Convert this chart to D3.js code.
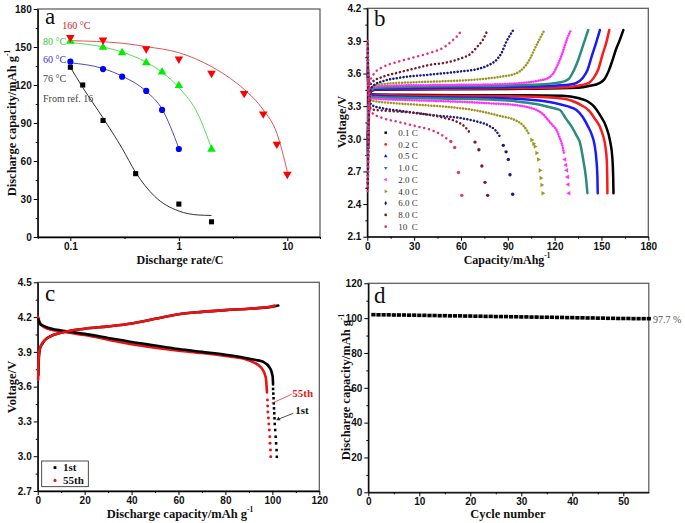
<!DOCTYPE html>
<html><head><meta charset="utf-8">
<script src="https://cdn.jsdelivr.net/npm/d3@7"></script>
<style>body{margin:0;background:#fff}</style>
</head><body>
<svg id="c" width="685" height="523"></svg>
<script>
// ---------------- DATA ----------------
// Panel a: rate capability
const aRate160 = [0.1,0.2,0.5,1,2,4,6,8,10];
const aCap160  = [157.5,155.5,148.6,140.5,129.3,113.4,97.2,73.3,49.6];
const aRate80  = [0.1,0.2,0.3,0.5,0.7,1,2];
const aCap80   = [154.5,149.7,145.5,137.6,130.3,119.5,69.2];
const aRate60  = [0.1,0.2,0.3,0.5,0.7,1];
const aCap60   = [138.4,132.6,126.6,115.3,100.3,69.5];
const aRate76  = [0.1,0.13,0.2,0.4,1,2];
const aCap76   = [134,120,92,50,26,12];
const aFit160X = [0.1,0.3,0.5,1,2,3,4,6,8,10];
const aFit160Y = [155,153,150.3,145.5,134.5,125,116.6,100.3,82,51.6];
const aFit80X  = [0.1,0.2,0.3,0.5,0.7,1,1.5,2];
const aFit80Y  = [153.5,150,146,138,130,118,97,70];
const aFit60X  = [0.1,0.2,0.3,0.5,0.7,1];
const aFit60Y  = [137.5,133,127,115,101,70];
const aFit76X  = [0.1,0.13,0.2,0.3,0.4,0.6,1,1.5,2];
const aFit76Y  = [134,118,94,70,51,32,20.5,17.4,17];
const aTempLabels = ["160 \u00B0C","80 \u00B0C","60 \u00B0C","76 \u00B0C","From ref. 16"];

// Panel b: charge/discharge curves at different rates [capacity, voltage]
const bRates = ["0.1 C","0.2 C","0.5 C","1.0 C","2.0 C","4.0 C","6.0 C","8.0 C","10  C"];
const bColors = ["#000000","#ff1a1a","#1a1aff","#2a8c7e","#ff33ff","#9a9a22","#1a1a80","#761a2c","#e8307e"];
const b01Charge = [[0.3,3.0],[1,3.3],[2,3.43],[5,3.45],[50,3.455],[100,3.46],[135,3.47],[142,3.485],[149,3.515],[152,3.55],[154.5,3.62],[157,3.72],[159,3.81],[161.5,3.90],[164,4.0]];
const b01Dis    = [[0.3,3.6],[1,3.45],[3,3.41],[20,3.405],[60,3.40],[100,3.40],[125,3.395],[135,3.375],[141,3.345],[145,3.30],[149,3.22],[153,3.11],[155.5,2.98],[157,2.82],[157.5,2.65],[157.7,2.50]];
const b02Charge = [[0.3,2.95],[1,3.3],[2,3.43],[5,3.455],[50,3.46],[100,3.465],[128,3.475],[136,3.49],[142,3.515],[145,3.56],[148,3.64],[151,3.79],[153,3.88],[155,4.0]];
const b02Dis    = [[0.3,3.62],[1,3.45],[3,3.405],[50,3.395],[100,3.39],[122,3.375],[131,3.35],[137,3.31],[142,3.26],[146,3.18],[149,3.11],[151,3.03],[152.5,2.93],[153.4,2.80],[153.7,2.65],[153.8,2.50]];
const b05Charge = [[0.3,2.9],[1,3.3],[2,3.43],[5,3.46],[50,3.47],[100,3.48],[122,3.49],[130,3.50],[134,3.515],[138,3.56],[141,3.63],[144,3.77],[146.5,3.88],[149,4.0]];
const b05Dis    = [[0.3,3.65],[1,3.44],[3,3.395],[30,3.385],[80,3.375],[108,3.355],[120,3.33],[128,3.30],[134,3.265],[138,3.20],[141.5,3.11],[144,3.03],[145.5,2.95],[146.8,2.80],[147.4,2.65],[147.6,2.50]];
const b1Charge  = [[0.3,2.85],[1,3.3],[2,3.44],[5,3.47],[30,3.48],[70,3.485],[100,3.495],[115,3.505],[124,3.52],[129,3.55],[132,3.62],[135,3.72],[138,3.85],[141.5,4.0]];
const b1Dis     = [[0.3,3.68],[1,3.44],[3,3.385],[30,3.375],[70,3.365],[95,3.345],[108,3.32],[117,3.29],[123.4,3.265],[127,3.19],[131,3.11],[134,3.03],[136.3,2.96],[138.4,2.80],[140,2.65],[141,2.50]];
const b2Charge  = [[0.3,2.8],[1,3.3],[2,3.45],[5,3.48],[20,3.49],[50,3.495],[80,3.50],[100,3.515],[110,3.535],[116,3.56],[119,3.60],[122,3.68],[125,3.79],[128,3.92],[130.5,4.0]];
const b2Dis     = [[0.3,3.72],[1,3.42],[3,3.37],[30,3.355],[60,3.34],[80,3.325],[95,3.31],[103,3.29],[108.5,3.265],[113,3.22],[116,3.17],[119,3.12],[121.3,3.08],[123,3.02],[124.5,2.96],[126,2.87]];
const b2Tail    = [[126.6,2.81],[127.2,2.76],[127.8,2.71],[128.3,2.65],[128.7,2.58],[129.2,2.50]];
const b4Charge  = [[0.3,2.75],[1,3.3],[2,3.46],[5,3.49],[15,3.51],[30,3.52],[50,3.53],[70,3.545],[85,3.57],[95,3.60],[100,3.65],[104,3.73],[107,3.82],[110.5,3.92],[113.5,4.0]];
const b4Dis     = [[0.3,3.78],[1,3.40],[3,3.35],[15,3.33],[30,3.315],[50,3.295],[70,3.26],[85,3.21],[95,3.17],[100,3.12],[102.1,3.08],[104,3.03]];
const b4Tail    = [[105.3,2.99],[106.5,2.955],[107.4,2.93],[108.5,2.87],[109.6,2.81],[110.6,2.71],[111.2,2.64],[111.7,2.575],[112.4,2.50]];
const b6Charge  = [[0.3,2.6],[1,3.2],[2,3.44],[4,3.49],[10,3.53],[20,3.56],[40,3.59],[60,3.62],[70,3.64],[78,3.68],[83,3.73],[86,3.79],[89,3.89],[93.5,4.0]];
const b6Dis     = [[0.3,3.82],[1,3.36],[3,3.31],[10,3.28],[20,3.26],[40,3.22],[60,3.19],[70,3.16],[78,3.12],[82,3.08],[85,3.02]];
const b6Tail    = [[87.1,2.94],[88.9,2.88],[90.3,2.81],[91.4,2.67],[93.1,2.49]];
const b8Charge  = [[0.3,2.55],[1,3.15],[1.5,3.47],[3,3.52],[10,3.57],[20,3.61],[30,3.645],[40,3.68],[50,3.70],[60,3.74],[66,3.78],[70,3.84],[74,3.91],[77,4.0]];
const b8Dis     = [[0.3,3.87],[1,3.32],[3,3.27],[10,3.26],[20,3.25],[30,3.24],[40,3.22],[50,3.19],[57,3.16],[62.6,3.11],[66,3.05]];
const b8Tail    = [[69,2.97],[71.5,2.90],[73.4,2.75],[75.4,2.60],[77.1,2.48]];
const b10Charge = [[0.3,2.52],[1,3.1],[1.5,3.52],[5,3.61],[10,3.66],[20,3.71],[30,3.75],[40,3.79],[50,3.85],[55,3.91],[58,3.95],[60.5,4.0]];
const b10Dis    = [[0.3,3.9],[1,3.30],[3,3.24],[10,3.19],[20,3.155],[30,3.12],[41,3.08],[47.7,3.035],[51,3.0]];
const b10Tail   = [[53.5,2.975],[56,2.92],[58.4,2.69],[60.5,2.48]];

// Panel c: 1st and 55th cycle [capacity, voltage]
const c1stCharge  = [[0.3,3.70],[0.5,3.85],[1,3.93],[2,3.97],[3,4.0],[5,4.03],[10,4.065],[20,4.10],[30,4.12],[40,4.145],[50,4.185],[60,4.225],[70,4.245],[80,4.26],[90,4.272],[100,4.29],[102.5,4.30]];
const c55Charge   = [[0.2,3.66],[0.3,3.78],[0.6,3.90],[1.5,3.96],[3,4.0],[5,4.03],[10,4.065],[20,4.10],[30,4.12],[40,4.145],[50,4.185],[60,4.225],[70,4.245],[80,4.26],[90,4.272],[100,4.292],[101,4.30]];
const c1stDis     = [[0.3,4.18],[1,4.14],[3,4.12],[6,4.10],[10,4.085],[15,4.07],[20,4.055],[30,4.02],[40,3.985],[50,3.955],[60,3.925],[70,3.90],[80,3.875],[88,3.85],[93,3.83],[96,3.815],[99,3.76],[100.1,3.69],[100.3,3.62]];
const c55Dis      = [[0.2,4.2],[1,4.15],[3,4.11],[6,4.09],[10,4.075],[15,4.06],[20,4.045],[30,4.005],[40,3.965],[50,3.935],[60,3.91],[70,3.89],[80,3.865],[88,3.84],[92,3.81],[95.4,3.76],[97.2,3.68],[97.7,3.55]];
const c1stTail    = [[100.3,3.58],[100.4,3.54],[100.5,3.50],[100.6,3.456],[100.7,3.413],[100.8,3.37],[100.9,3.327],[101.0,3.278],[101.2,3.226],[101.4,3.168],[101.6,3.111],[101.8,3.053],[101.9,2.995]];
const c55Tail     = [[97.9,3.484],[98.0,3.433],[98.1,3.381],[98.3,3.329],[98.5,3.278],[98.7,3.226],[98.9,3.168],[99.0,3.111],[99.2,3.053],[99.3,2.995]];

// Panel d: cycling
const dCycles = d3.range(1,56);
const dCap = [102.0,101.9,101.9,101.9,101.8,101.8,101.8,101.7,101.7,101.6,
              101.6,101.5,101.5,101.4,101.4,101.3,101.3,101.3,101.2,101.2,
              101.1,101.1,101.0,101.0,100.9,100.9,100.9,100.8,100.8,100.7,
              100.7,100.6,100.6,100.5,100.5,100.5,100.4,100.4,100.3,100.3,
              100.2,100.2,100.1,100.1,100.0,100.0,99.9,99.9,99.8,99.8,
              99.8,99.7,99.7,99.7,99.7];

// ---------------- DRAWING ----------------
const svg = d3.select("#c");
const SANS = "'Liberation Sans', Arial, sans-serif";
const SERIF = "'Liberation Serif', 'Times New Roman', serif";

function panel(xs, ys, o) {
  const [xl, xr] = xs.range(), [yb, yt] = ys.range();
  const g = svg.append("g");
  g.append("rect").attr("x", xl).attr("y", yt).attr("width", xr - xl).attr("height", yb - yt)
    .attr("fill", "none").attr("stroke", "#555").attr("stroke-width", 1.2);
  g.append("g").attr("transform", `translate(0,${yb})`)
    .call(d3.axisBottom(xs).tickValues(o.xMajor).tickFormat(o.xFmt).tickSize(4).tickPadding(2).tickSizeOuter(0));
  if (o.xMinor) g.append("g").attr("transform", `translate(0,${yb})`)
    .call(d3.axisBottom(xs).tickValues(o.xMinor).tickFormat("").tickSize(2).tickSizeOuter(0)).select(".domain").remove();
  g.append("g").attr("transform", `translate(${xl},0)`)
    .call(d3.axisLeft(ys).tickValues(o.yMajor).tickFormat(o.yFmt).tickSize(4).tickPadding(2).tickSizeOuter(0));
  if (o.yMinor) g.append("g").attr("transform", `translate(${xl},0)`)
    .call(d3.axisLeft(ys).tickValues(o.yMinor).tickFormat("").tickSize(2).tickSizeOuter(0)).select(".domain").remove();
  g.selectAll(".domain").attr("stroke", "#000").attr("stroke-width", 1.3);
  g.selectAll(".tick line").attr("stroke", "#000").attr("stroke-width", 1);
  g.selectAll(".tick text").attr("font-family", SANS).attr("font-weight", "bold").attr("font-size", 10).attr("fill", "#111");
  return g;
}
function title(txt, sup, x, y, rot, size) {
  const t = svg.append("text").attr("font-family", SERIF).attr("font-weight", "bold")
    .attr("font-size", size).attr("text-anchor", "middle").attr("fill", "#111")
    .attr("transform", `translate(${x},${y}) rotate(${rot})`);
  t.append("tspan").text(txt);
  if (sup) t.append("tspan").attr("font-size", size * 0.6).attr("dy", -size * 0.45).text(sup);
}
function letter(ch, x, y) {
  svg.append("text").attr("x", x).attr("y", y).attr("font-family", SERIF).attr("font-size", 23).attr("fill", "#111").text(ch);
}
function sym(g, kind, x, y, size, color) {
  const map = {sq: [d3.symbolSquare, 0], ci: [d3.symbolCircle, 0], up: [d3.symbolTriangle, 0], dn: [d3.symbolTriangle, 180],
    lf: [d3.symbolTriangle, -90], rt: [d3.symbolTriangle, 90], di: [d3.symbolDiamond, 0]};
  const [s, r] = map[kind];
  g.append("path").attr("d", d3.symbol(s, size)()).attr("fill", color)
    .attr("transform", `translate(${x},${y}) rotate(${r})`);
}

// ---------- Panel a ----------
{
  const x = d3.scaleLog().domain([0.05, 20]).range([37.7, 320]);
  const y = d3.scaleLinear().domain([0, 180]).range([237, 9]);
  panel(x, y, {xMajor: [0.1, 1, 10], xFmt: d => d === 0.1 ? "0.1" : String(d), xMinor: [0.05, 0.316, 3.16, 20],
    yMajor: d3.range(0, 181, 30), yFmt: d3.format("d"), yMinor: d3.range(15, 180, 30)});
  const g = svg.append("g");
  const line = d3.line().x(d => x(d[0])).y(d => y(d[1])).curve(d3.curveMonotoneX);
  const fits = [[aFit160X, aFit160Y, "#e05555"], [aFit80X, aFit80Y, "#55dd55"], [aFit60X, aFit60Y, "#4a4ac8"], [aFit76X, aFit76Y, "#333"]];
  fits.forEach(([fx, fy, c]) => g.append("path").attr("d", line(fx.map((v, i) => [v, fy[i]])))
    .attr("fill", "none").attr("stroke", c).attr("stroke-width", 1));
  aRate76.forEach((r, i) => sym(g, "sq", x(r), y(aCap76[i]), 26, "#000"));
  aRate60.forEach((r, i) => sym(g, "ci", x(r), y(aCap60[i]), 30, "#0000ff"));
  aRate80.forEach((r, i) => sym(g, "up", x(r), y(aCap80[i]), 32, "#00ee00"));
  aRate160.forEach((r, i) => sym(g, "dn", x(r), y(aCap160[i]), 32, "#ff0000"));
  const labs = [[0.084, 164, "#cc2222"], [0.056, 151.5, "#33cc33"], [0.056, 137, "#3333cc"], [0.056, 122.5, "#444"], [0.056, 106.5, "#444"]];
  labs.forEach(([lx, ly, c], i) => g.append("text").attr("x", x(lx)).attr("y", y(ly)).attr("font-family", SERIF)
    .attr("font-size", 10).attr("fill", c).text(aTempLabels[i]));
  letter("a", 45, 24);
  title("Discharge rate/C", null, 180, 263.5, 0, 12);
  title("Discharge capacity/mAh g", "-1", 16, 123, -90, 12.5);
}

// ---------- Panel b ----------
{
  const x = d3.scaleLinear().domain([0, 180]).range([367.3, 648.3]);
  const y = d3.scaleLinear().domain([2.1, 4.2]).range([236.7, 8.3]);
  panel(x, y, {xMajor: d3.range(0, 181, 30), xFmt: d3.format("d"), xMinor: d3.range(15, 180, 30),
    yMajor: d3.range(0, 8).map(i => 2.1 + 0.3 * i), yFmt: d3.format(".1f"), yMinor: d3.range(0, 7).map(i => 2.25 + 0.3 * i)});
  const g = svg.append("g");
  const line = d3.line().x(d => x(d[0])).y(d => y(d[1])).curve(d3.curveMonotoneX);
  const series = [
    [b01Charge, b01Dis, null, 0, "sq"], [b02Charge, b02Dis, null, 0, "ci"], [b05Charge, b05Dis, null, 0, "up"],
    [b1Charge, b1Dis, null, 0, "dn"], [b2Charge, b2Dis, b2Tail, 2.3, "lf"], [b4Charge, b4Dis, b4Tail, 2.8, "rt"],
    [b6Charge, b6Dis, b6Tail, 3.3, "di"], [b8Charge, b8Dis, b8Tail, 3.9, "ci"], [b10Charge, b10Dis, b10Tail, 4.8, "ci"]];
  series.forEach(([ch, di, tail, sp, mk], i) => {
    [ch, di].forEach(arr => {
      const p = g.append("path").attr("d", line(arr)).attr("fill", "none").attr("stroke", bColors[i])
        .attr("stroke-width", sp ? 2.5 : 2.5).attr("stroke-linecap", "round");
      if (sp) p.attr("stroke-dasharray", `0.1,${sp}`);
    });
    if (tail) tail.forEach(t => sym(g, mk === "ci" || mk === "di" ? "ci" : mk, x(t[0]), y(t[1]), 9, bColors[i]));
  });
  // legend
  const lg = svg.append("g");
  bRates.forEach((r, i) => {
    const ly = 132.7 + i * 11.75;
    sym(lg, series[i][4], 385.7, ly, 6, bColors[i]);
    lg.append("text").attr("x", 398.3).attr("y", ly + 3.2).attr("font-family", SERIF).attr("font-size", 9)
      .attr("fill", "#333").attr("xml:space", "preserve").text(r);
  });
  letter("b", 374, 26);
  title("Capacity/mAhg", "-1", 507, 263.5, 0, 12);
  title("Voltage/V", null, 345.5, 122, -90, 12.5);
}

// ---------- Panel c ----------
{
  const x = d3.scaleLinear().domain([0, 120]).range([37.7, 319.3]);
  const y = d3.scaleLinear().domain([2.7, 4.5]).range([491, 282.3]);
  panel(x, y, {xMajor: d3.range(0, 121, 20), xFmt: d3.format("d"), xMinor: d3.range(10, 120, 20),
    yMajor: d3.range(0, 7).map(i => 2.7 + 0.3 * i), yFmt: d3.format(".1f"), yMinor: d3.range(0, 6).map(i => 2.85 + 0.3 * i)});
  const g = svg.append("g");
  const line = d3.line().x(d => x(d[0])).y(d => y(d[1])).curve(d3.curveMonotoneX);
  const curves = [[c55Dis, "#ee1111"], [c1stDis, "#000"], [c1stCharge, "#000"], [c55Charge, "#ee1111"]];
  curves.forEach(([arr, c]) => g.append("path").attr("d", line(arr)).attr("fill", "none").attr("stroke", c)
    .attr("stroke-width", 2.6).attr("stroke-linecap", "round"));
  c1stTail.forEach(t => sym(g, "sq", x(t[0]), y(t[1]), 6.5, "#000"));
  c55Tail.forEach(t => sym(g, "ci", x(t[0]), y(t[1]), 7, "#ee1111"));
  // annotations (data coords)
  g.append("line").attr("x1", x(108.2)).attr("y1", y(3.534)).attr("x2", x(99.7)).attr("y2", y(3.456))
    .attr("stroke", "#e03030").attr("stroke-width", 0.8);
  g.append("line").attr("x1", x(108.9)).attr("y1", y(3.37)).attr("x2", x(102.6)).attr("y2", y(3.32))
    .attr("stroke", "#222").attr("stroke-width", 0.8);
  g.append("path").attr("d", d3.symbol(d3.symbolTriangle, 8)()).attr("fill", "#222")
    .attr("transform", `translate(${x(102.6)},${y(3.32)}) rotate(-120)`);
  g.append("text").attr("x", x(108.5)).attr("y", y(3.515)).attr("font-family", SERIF).attr("font-weight", "bold")
    .attr("font-size", 11).attr("fill", "#e02020").text("55th");
  g.append("text").attr("x", x(109.7)).attr("y", y(3.365)).attr("font-family", SERIF).attr("font-weight", "bold")
    .attr("font-size", 11).attr("fill", "#111").text("1st");
  // legend
  g.append("rect").attr("x", 41.7).attr("y", 461).attr("width", 46.6).attr("height", 25.7)
    .attr("fill", "#fff").attr("stroke", "#222").attr("stroke-width", 0.8);
  [["1st", "#000", "sq"], ["55th", "#ee1111", "ci"]].forEach(([t, c, m], i) => {
    sym(g, m, 55, 467.6 + i * 12.8, 8, c);
    g.append("text").attr("x", 63).attr("y", 471.3 + i * 12.8).attr("font-family", SERIF).attr("font-weight", "bold")
      .attr("font-size", 11).attr("fill", "#111").text(t);
  });
  letter("c", 45, 301);
  title("Discharge capacity/mAh g", "-1", 180, 518, 0, 12.5);
  title("Voltage/V", null, 15.5, 387, -90, 12.5);
}

// ---------- Panel d ----------
{
  const x = d3.scaleLinear().domain([0, 55]).range([368.3, 648.8]);
  const y = d3.scaleLinear().domain([0, 120]).range([492.3, 283.3]);
  panel(x, y, {xMajor: d3.range(0, 51, 10), xFmt: d3.format("d"), xMinor: d3.range(5, 55, 10),
    yMajor: d3.range(0, 121, 20), yFmt: d3.format("d"), yMinor: d3.range(10, 120, 20)});
  const g = svg.append("g");
  dCycles.forEach((c, i) => g.append("rect").attr("x", x(c) - 2.1).attr("y", y(dCap[i]) - 1.8)
    .attr("width", 4.2).attr("height", 3.6).attr("fill", "#000"));
  g.append("text").attr("x", 653).attr("y", y(dCap[54]) + 4).attr("font-family", SERIF).attr("font-size", 10)
    .attr("fill", "#555").text("97.7 %");
  letter("d", 374, 303);
  title("Cycle number", null, 508, 518, 0, 12.5);
  title("Discharge capacity/mAh g", "-1", 350, 387, -90, 12.5);
}
</script>
</body></html>
